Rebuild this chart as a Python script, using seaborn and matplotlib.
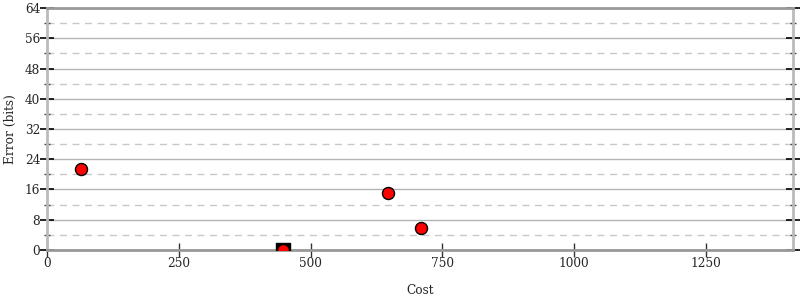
import matplotlib
matplotlib.use("Agg")
import matplotlib.pyplot as plt
import seaborn as sns
import pandas as pd
from matplotlib.ticker import MultipleLocator

# Data
cost_points = [64, 646, 709, 448]
error_points = [21.5, 15.0, 5.9, 0.0]
square_cost = [448]
square_error = [0.0]
x_ticks = [0, 250, 500, 750, 1000, 1250]
y_ticks = [0, 8, 16, 24, 32, 40, 48, 56, 64]

sns.set_style("white")
plt.rcParams['font.family'] = ['DejaVu Serif']

fig = plt.figure(figsize=(8, 3), dpi=100)
ax = fig.add_axes([0.059, 0.1667, 0.932, 0.8066])

df_sq = pd.DataFrame({"Cost": square_cost, "Error": square_error})
df_pts = pd.DataFrame({"Cost": cost_points, "Error": error_points})

sns.scatterplot(data=df_sq, x="Cost", y="Error", marker="s", s=110,
                color="black", edgecolor="black", linewidth=1, ax=ax, zorder=3)
sns.scatterplot(data=df_pts, x="Cost", y="Error", marker="o", s=75,
                color="red", edgecolor="black", linewidth=1, ax=ax, zorder=4)

ax.set_xlim(0, 1415)
ax.set_ylim(0, 64)
ax.set_xticks(x_ticks)
ax.set_yticks(y_ticks)
ax.yaxis.set_minor_locator(MultipleLocator(4))

ax.grid(True, which="major", axis="y", color="#b4b4b4", linewidth=1, linestyle="-", zorder=0)
ax.grid(True, which="minor", axis="y", color="#c8c8c8", linewidth=1, linestyle=(0, (5, 4)), zorder=0)
ax.grid(False, axis="x")
ax.set_axisbelow(True)

for side in ["left", "right"]:
    ax.spines[side].set_color("#bbbbbb")
    ax.spines[side].set_linewidth(2)
for side in ["top", "bottom"]:
    ax.spines[side].set_color("#999999")
    ax.spines[side].set_linewidth(2)

ax.tick_params(axis="y", which="major", direction="inout", length=10, width=1.2,
               color="black", left=True, right=True, labelsize=8.7, pad=0)
ax.tick_params(axis="y", which="minor", direction="inout", length=5, width=1,
               color="#444444", left=True, right=True)
ax.tick_params(axis="x", which="major", direction="inout", length=10, width=1,
               color="#333333", bottom=True, top=False, labelsize=8.7, pad=0)

ax.set_xlabel("Cost", fontsize=8.7, labelpad=10)
ax.set_ylabel("Error (bits)", fontsize=8.7, labelpad=6)

fig.savefig("out.png", dpi=100)
